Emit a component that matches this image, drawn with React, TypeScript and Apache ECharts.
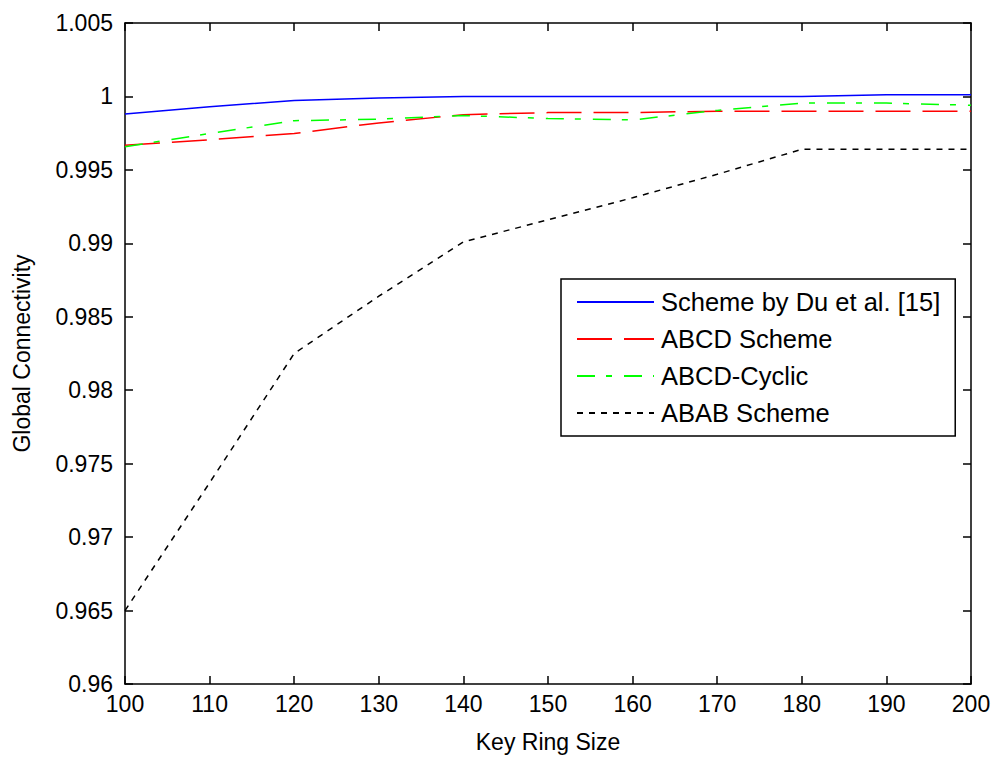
import React, { useEffect, useRef } from "react";
import * as echarts from "echarts";

const keyRingSizes = [100, 110, 120, 130, 140, 150, 160, 170, 180, 190, 200];
const duScheme = [0.9988, 0.9993, 0.99972, 0.9999, 1.0, 1.0, 1.0, 1.0, 1.0, 1.00012, 1.00012];
const abcdScheme = [0.99668, 0.99705, 0.99748, 0.9982, 0.99876, 0.9989, 0.9989, 0.999, 0.999, 0.999, 0.999];
const abcdCyclic = [0.99657, 0.99748, 0.99835, 0.99845, 0.9987, 0.9985, 0.9984, 0.99905, 0.99955, 0.99955, 0.9994];
const ababScheme = [0.965, 0.9737, 0.9825, 0.9864, 0.9901, 0.9916, 0.9931, 0.9947, 0.9964, 0.9964, 0.9964];

const seriesNames = ["Scheme by Du et al. [15]", "ABCD Scheme", "ABCD-Cyclic", "ABAB Scheme"];
const xTitle = "Key Ring Size";
const yTitle = "Global Connectivity";

const FONT = "Liberation Sans, Arial, sans-serif";

export default function App() {
  const ref = useRef<HTMLDivElement>(null);
  useEffect(() => {
    document.body.style.margin = "0";
    const chart = echarts.init(ref.current!, null, { renderer: "svg" });
    const pair = (ys: number[]) => keyRingSizes.map((x, i) => [x, ys[i]]);
    const axisCommon = {
      axisLine: { show: true, lineStyle: { color: "#000", width: 1.5 } },
      axisTick: { show: true, inside: true, length: 8, lineStyle: { color: "#000", width: 1.5 } },
      splitLine: { show: false },
    };
    chart.setOption({
      animation: false,
      backgroundColor: "#fff",
      textStyle: { fontFamily: FONT },
      grid: { left: 125, right: 29, top: 23, bottom: 69, containLabel: false },
      xAxis: [
        {
          type: "value",
          min: 100,
          max: 200,
          interval: 10,
          position: "bottom",
          name: xTitle,
          nameLocation: "middle",
          nameGap: 46,
          nameTextStyle: { color: "#000", fontSize: 23, fontFamily: FONT },
          axisLabel: { color: "#000", fontSize: 23, margin: 8, fontFamily: FONT },
          ...axisCommon,
        },
        {
          type: "value",
          min: 100,
          max: 200,
          interval: 10,
          position: "top",
          axisLabel: { show: false },
          ...axisCommon,
        },
      ],
      yAxis: [
        {
          type: "value",
          min: 0.96,
          max: 1.005,
          interval: 0.005,
          position: "left",
          name: yTitle,
          nameLocation: "middle",
          nameGap: 92,
          nameTextStyle: { color: "#000", fontSize: 23, fontFamily: FONT },
          axisLabel: {
            color: "#000",
            fontSize: 23,
            margin: 12,
            fontFamily: FONT,
            formatter: (v: number) => String(parseFloat(v.toFixed(3))),
          },
          ...axisCommon,
        },
        {
          type: "value",
          min: 0.96,
          max: 1.005,
          interval: 0.005,
          position: "right",
          axisLabel: { show: false },
          ...axisCommon,
        },
      ],
      legend: {
        orient: "vertical",
        left: 561,
        top: 279,
        padding: [10, 15, 10, 15],
        itemWidth: 77,
        itemHeight: 14,
        itemGap: 11,
        borderColor: "#000",
        borderWidth: 1.5,
        backgroundColor: "#fff",
        itemStyle: { color: "transparent", borderColor: "transparent", borderWidth: 0 },
        textStyle: { color: "#000", fontSize: 25.5, fontFamily: FONT, padding: [0, 0, 0, 2] },
        data: seriesNames,
      },
      series: [
        {
          name: seriesNames[0],
          type: "line",
          data: pair(duScheme),
          symbol: "none",
          lineStyle: { color: "#0000ff", width: 1.5, type: "solid" },
          itemStyle: { color: "#0000ff" },
        },
        {
          name: seriesNames[1],
          type: "line",
          data: pair(abcdScheme),
          symbol: "none",
          lineStyle: { color: "#ff0000", width: 1.5, type: [35, 12] },
          itemStyle: { color: "#ff0000" },
        },
        {
          name: seriesNames[2],
          type: "line",
          data: pair(abcdCyclic),
          symbol: "none",
          lineStyle: { color: "#00ff00", width: 1.5, type: [18, 11, 6, 12] },
          itemStyle: { color: "#00ff00" },
        },
        {
          name: seriesNames[3],
          type: "line",
          data: pair(ababScheme),
          symbol: "none",
          lineStyle: { color: "#000000", width: 1.5, type: [6, 6] },
          itemStyle: { color: "#000000" },
        },
      ],
    });
    return () => chart.dispose();
  }, []);
  return <div ref={ref} style={{ width: 1000, height: 758 }} />;
}
